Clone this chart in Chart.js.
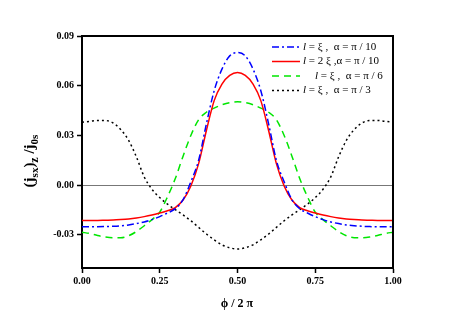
<!DOCTYPE html>
<html>
<head>
<meta charset="utf-8">
<script src="https://cdn.jsdelivr.net/npm/chart.js@4"></script>
<style>
  html, body { margin: 0; padding: 0; background: #fff; }
  #wrap { width: 457px; height: 323px; }
</style>
</head>
<body>
<div id="wrap"><canvas id="chart" width="457" height="323"></canvas></div>
<script>
// phi / 2pi
const phi = [0.000, 0.025, 0.050, 0.075, 0.100, 0.125, 0.150, 0.175, 0.200, 0.225,
             0.250, 0.275, 0.300, 0.325, 0.350, 0.375, 0.400, 0.425, 0.450, 0.475,
             0.500, 0.525, 0.550, 0.575, 0.600, 0.625, 0.650, 0.675, 0.700, 0.725,
             0.750, 0.775, 0.800, 0.825, 0.850, 0.875, 0.900, 0.925, 0.950, 0.975, 1.000];

// l = xi, alpha = pi/10
const blueVals = [-0.0251, -0.0251, -0.0251, -0.0250, -0.0248, -0.0245, -0.0240, -0.0232, -0.0222, -0.0208,
                  -0.0190, -0.0168, -0.0142, -0.0088, 0.0020, 0.0150, 0.0370, 0.0570, 0.0700, 0.0780,
                  0.0800, 0.0780, 0.0700, 0.0570, 0.0370, 0.0150, 0.0020, -0.0088, -0.0142, -0.0168,
                  -0.0190, -0.0208, -0.0222, -0.0232, -0.0240, -0.0245, -0.0248, -0.0250, -0.0251, -0.0251, -0.0251];
// l = 2 xi, alpha = pi/10
const redVals = [-0.0213, -0.0213, -0.0213, -0.0212, -0.0211, -0.0208, -0.0204, -0.0198, -0.0190, -0.0180,
                 -0.0168, -0.0155, -0.0135, -0.0090, -0.0005, 0.0130, 0.0330, 0.0510, 0.0610, 0.0662,
                 0.0680, 0.0662, 0.0610, 0.0510, 0.0330, 0.0130, -0.0005, -0.0090, -0.0135, -0.0155,
                 -0.0168, -0.0180, -0.0190, -0.0198, -0.0204, -0.0208, -0.0211, -0.0212, -0.0213, -0.0213, -0.0213];
// l = xi, alpha = pi/6
const greenVals = [-0.0284, -0.0292, -0.0304, -0.0313, -0.0317, -0.0317, -0.0305, -0.0280, -0.0245, -0.0208,
                   -0.0163, -0.0070, 0.0040, 0.0175, 0.0300, 0.0395, 0.0440, 0.0465, 0.0485, 0.0498,
                   0.0503, 0.0498, 0.0485, 0.0465, 0.0440, 0.0395, 0.0300, 0.0175, 0.0040, -0.0070,
                   -0.0163, -0.0208, -0.0245, -0.0280, -0.0305, -0.0317, -0.0317, -0.0313, -0.0304, -0.0292, -0.0284];
// l = xi, alpha = pi/3
const blackVals = [0.0380, 0.0385, 0.0390, 0.0390, 0.0375, 0.0335, 0.0270, 0.0170, 0.0050, -0.0025,
                   -0.0075, -0.0115, -0.0148, -0.0180, -0.0215, -0.0255, -0.0295, -0.0330, -0.0360, -0.0378,
                   -0.0385, -0.0378, -0.0360, -0.0330, -0.0295, -0.0255, -0.0215, -0.0180, -0.0148, -0.0115,
                   -0.0075, -0.0025, 0.0050, 0.0170, 0.0270, 0.0335, 0.0375, 0.0390, 0.0390, 0.0385, 0.0380];

const xTicks = [0, 0.25, 0.5, 0.75, 1.0];
const yTicks = [-0.03, 0, 0.03, 0.06, 0.09];

const legendItems = [
  { mid: ' = ξ ,  α = π / 10', color: '#0000ff', dash: [7, 3, 2, 3], dx: 0 },
  { mid: ' = 2 ξ ,α = π / 10', color: '#ff0000', dash: [], dx: 0 },
  { mid: ' = ξ ,  α = π / 6', color: '#00e600', dash: [7, 5], dx: 12 },
  { mid: ' = ξ ,  α = π / 3', color: '#000000', dash: [2, 3], dx: 0 }
];

function pts(vals) {
  return phi.map((x, i) => ({ x: x, y: vals[i] }));
}

const SERIF = '"Liberation Serif", "DejaVu Serif", serif';

const framePlugin = {
  id: 'frame',
  afterDatasetsDraw(chart) {
    const { ctx, chartArea: a } = chart;
    ctx.save();
    ctx.strokeStyle = '#000';
    ctx.lineWidth = 2;
    ctx.beginPath();
    ctx.moveTo(a.left, a.top);
    ctx.lineTo(a.right, a.top);
    ctx.lineTo(a.right, a.bottom);
    ctx.stroke();

    // legend
    let y = a.top + 11;
    legendItems.forEach(item => {
      ctx.strokeStyle = item.color;
      ctx.lineWidth = 1.5;
      ctx.setLineDash(item.dash);
      ctx.beginPath();
      ctx.moveTo(272, y);
      ctx.lineTo(300, y);
      ctx.stroke();
      ctx.setLineDash([]);
      ctx.fillStyle = '#000';
      ctx.textBaseline = 'middle';
      ctx.textAlign = 'left';
      const x0 = 303 + item.dx;
      ctx.font = 'italic 11px ' + SERIF;
      ctx.fillText('l', x0, y);
      const w = ctx.measureText('l').width;
      ctx.font = '11px ' + SERIF;
      ctx.fillText(item.mid, x0 + w, y);
      y += 14.5;
    });

    // y axis title (j_sx)_z / j_0s
    ctx.save();
    ctx.translate(30, 161);
    ctx.rotate(-Math.PI / 2);
    ctx.fillStyle = '#000';
    ctx.textBaseline = 'alphabetic';
    const parts = [
      ['(j', 15, 0], ['sx', 11, 4], [')', 15, 0], ['z', 12, 4], [' /j', 15, 0], ['0s', 11, 4]
    ];
    let total = 0;
    parts.forEach(p => { ctx.font = 'bold ' + p[1] + 'px ' + SERIF; total += ctx.measureText(p[0]).width; });
    let cx = -total / 2;
    parts.forEach(p => {
      ctx.font = 'bold ' + p[1] + 'px ' + SERIF;
      ctx.fillText(p[0], cx, 4 + p[2]);
      cx += ctx.measureText(p[0]).width;
    });
    ctx.restore();

    // x axis title
    ctx.font = 'bold 12px ' + SERIF;
    ctx.textAlign = 'center';
    ctx.textBaseline = 'middle';
    ctx.fillText('ϕ / 2 π', 237, 304);
    ctx.restore();
  }
};

new Chart(document.getElementById('chart'), {
  type: 'line',
  data: {
    datasets: [
      { data: pts(blueVals), borderColor: '#0000ff', borderDash: [7, 3, 2, 3], borderWidth: 1.5 },
      { data: pts(redVals), borderColor: '#ff0000', borderDash: [], borderWidth: 1.5 },
      { data: pts(greenVals), borderColor: '#00e600', borderDash: [7, 5], borderWidth: 1.5 },
      { data: pts(blackVals), borderColor: '#000000', borderDash: [2, 3], borderWidth: 1.5 }
    ]
  },
  options: {
    responsive: false,
    animation: false,
    layout: { padding: { left: 0, right: 64, top: 36, bottom: 0 } },
    elements: {
      point: { radius: 0 },
      line: { cubicInterpolationMode: 'monotone', fill: false }
    },
    plugins: { legend: { display: false }, tooltip: { enabled: false } },
    scales: {
      x: {
        type: 'linear', min: 0, max: 1,
        afterBuildTicks: s => { s.ticks = xTicks.map(v => ({ value: v })); },
        afterFit: s => { s.height = 55; },
        border: { display: true, color: '#000', width: 2 },
        grid: { drawOnChartArea: false, drawTicks: true, tickLength: 5, tickColor: '#000', tickWidth: 1.5 },
        ticks: {
          color: '#000', padding: 2, maxRotation: 0,
          font: { family: SERIF, size: 10, weight: 'bold' },
          callback: v => v.toFixed(2)
        }
      },
      y: {
        type: 'linear', min: -0.05, max: 0.09,
        afterBuildTicks: s => { s.ticks = yTicks.map(v => ({ value: v })); },
        afterFit: s => { s.width = 82; },
        border: { display: true, color: '#000', width: 2 },
        grid: {
          drawOnChartArea: true, drawTicks: true, tickLength: 5, tickWidth: 1.5,
          tickColor: '#000',
          color: c => (c.tick && c.tick.value === 0) ? '#777' : 'rgba(0,0,0,0)',
          lineWidth: 1
        },
        ticks: {
          color: '#000', padding: 3,
          font: { family: SERIF, size: 10, weight: 'bold' },
          callback: v => v.toFixed(2)
        }
      }
    }
  },
  plugins: [framePlugin]
});
</script>
</body>
</html>
